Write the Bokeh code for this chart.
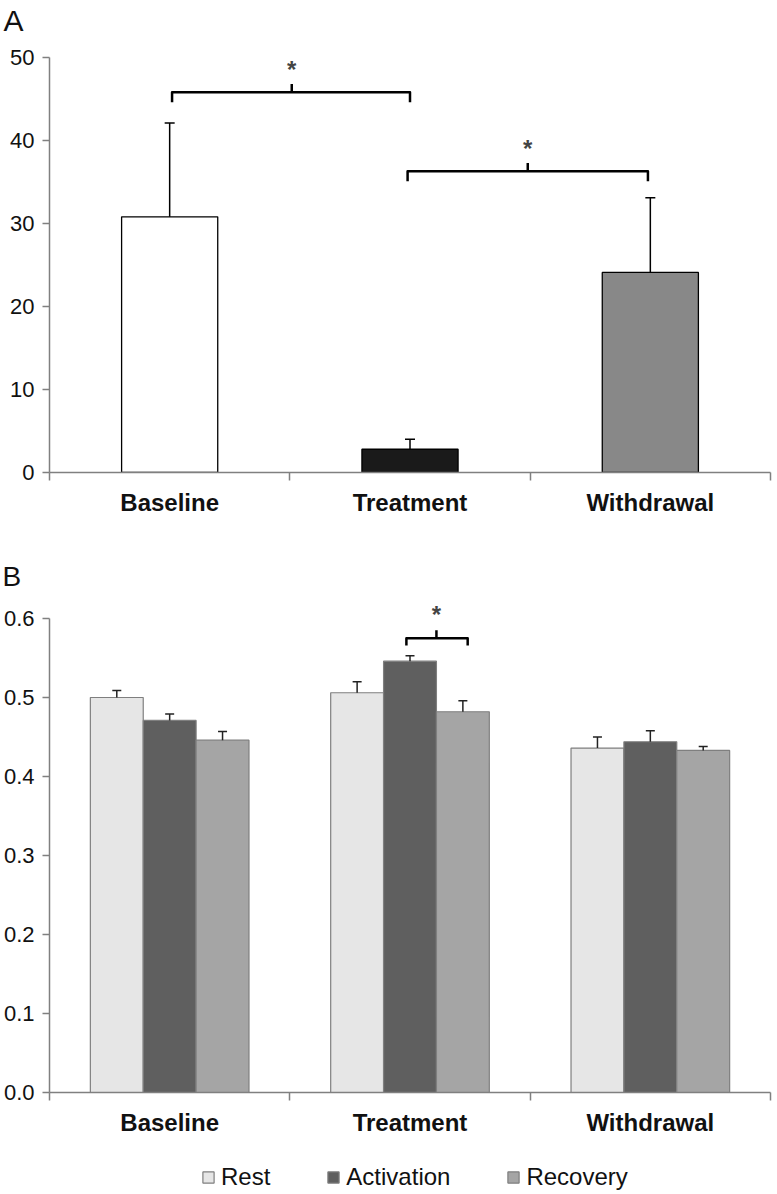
import numpy as np
from bokeh.plotting import figure
from bokeh.models import (Range1d, FixedTicker, ColumnDataSource, Whisker, TeeHead,
                          Label, Legend, LegendItem)
from bokeh.layouts import column
from bokeh.embed import file_html
from bokeh.resources import INLINE

FONT = "Liberation Sans"

# ---------------- data ----------------
categories = ["Baseline", "Treatment", "Withdrawal"]

# Panel A
a_values = [30.8, 2.8, 24.1]
a_errors = [11.3, 1.2, 9.0]
a_colors = ["#ffffff", "#1a1a1a", "#888888"]

# Panel B
b_series = ["Rest", "Activation", "Recovery"]
b_rest = [0.500, 0.506, 0.436]
b_rest_err = [0.009, 0.014, 0.014]
b_activation = [0.471, 0.546, 0.444]
b_activation_err = [0.008, 0.007, 0.014]
b_recovery = [0.446, 0.482, 0.433]
b_recovery_err = [0.011, 0.014, 0.005]
b_colors = ["#e6e6e6", "#5f5f5f", "#a5a5a5"]

a_yticks = [0, 10, 20, 30, 40, 50]
b_yticks = [0.0, 0.1, 0.2, 0.3, 0.4, 0.5, 0.6]

xc = np.arange(len(categories)) + 0.5
W = 775


def style_axes(p, yticks, fmt):
    xa = p.xaxis[0]
    xa.ticker = FixedTicker(ticks=list(xc), minor_ticks=list(range(len(categories) + 1)))
    xa.major_label_overrides = {float(x): c for x, c in zip(xc, categories)}
    xa.major_tick_out = 0
    xa.major_tick_in = 0
    xa.minor_tick_out = 8
    xa.minor_tick_in = 0
    xa.minor_tick_line_color = "#808080"
    xa.axis_line_color = "#808080"
    xa.axis_line_width = 1.5
    xa.minor_tick_line_width = 1.5
    xa.major_label_text_font = FONT
    xa.major_label_text_font_style = "bold"
    xa.major_label_text_font_size = "24px"
    xa.major_label_text_color = "#111111"
    xa.major_label_standoff = 8

    ya = p.yaxis[0]
    ya.ticker = FixedTicker(ticks=yticks)
    ya.major_label_overrides = {float(t): fmt.format(t) for t in yticks}
    ya.bounds = (yticks[0], yticks[-1])
    ya.major_tick_out = 7
    ya.major_tick_in = 0
    ya.minor_tick_line_color = None
    ya.axis_line_color = "#808080"
    ya.axis_line_width = 1.5
    ya.major_tick_line_color = "#808080"
    ya.major_tick_line_width = 1.5
    ya.major_label_text_font = FONT
    ya.major_label_text_font_size = "22px"
    ya.major_label_text_color = "#111111"
    ya.major_label_standoff = 8

    p.xgrid.grid_line_color = None
    p.ygrid.grid_line_color = None
    p.outline_line_color = None


def panel_title(p, text, size, offset):
    p.title.text = text
    p.title.text_font = FONT
    p.title.text_font_size = size
    p.title.text_font_style = "normal"
    p.title.text_color = "#111111"
    p.title.align = "left"
    p.title.offset = offset
    p.title.standoff = 0


def bracket(p, x0, x1, xm, y_line, y_hook, y_tip, y_star):
    p.line([x0, x0, x1, x1], [y_hook, y_line, y_line, y_hook],
           line_color="black", line_width=2.5, line_join="round")
    p.line([xm, xm], [y_line, y_tip], line_color="black", line_width=2.5)
    p.add_layout(Label(x=xm, y=y_star, text="*", text_font=FONT, text_font_style="bold",
                       text_font_size="24px", text_align="center", text_baseline="middle"))


# ---------------- Panel A ----------------
pa = figure(width=W, height=558, x_range=Range1d(0, 3), y_range=Range1d(0, 52.53),
            output_backend="svg", toolbar_location=None,
            min_border_left=48, min_border_right=5, min_border_top=36, min_border_bottom=86)
src_a = ColumnDataSource(dict(x=xc, top=a_values, color=a_colors,
                              upper=np.array(a_values) + np.array(a_errors)))
pa.vbar(x="x", top="top", width=0.4, bottom=0, fill_color="color",
        line_color="black", line_width=1.3, source=src_a)
pa.add_layout(Whisker(base="x", lower="top", upper="upper", source=src_a, dimension="height",
                      upper_head=TeeHead(size=10, line_color="black", line_width=1.5),
                      lower_head=None, line_color="black", line_width=1.5, level="overlay"))
style_axes(pa, a_yticks, "{:.0f}")
panel_title(pa, "A", "30px", -46)

bracket(pa, xc[0] + 0.01, xc[1], 1.008, 45.8, 44.6, 46.8, 48.6)
bracket(pa, xc[1] - 0.01, xc[2] - 0.01, 1.99, 36.3, 35.1, 37.3, 39.0)

# ---------------- Panel B ----------------
pb = figure(width=W, height=602, x_range=Range1d(0, 3), y_range=Range1d(0, 0.6342),
            output_backend="svg", toolbar_location=None,
            min_border_left=49, min_border_right=5, min_border_top=33, min_border_bottom=68)
offsets = [-0.22, 0.0, 0.22]
vals = [b_rest, b_activation, b_recovery]
errs = [b_rest_err, b_activation_err, b_recovery_err]
for name, off, v, e, col in zip(b_series, offsets, vals, errs, b_colors):
    src = ColumnDataSource(dict(x=xc + off, top=v, upper=np.array(v) + np.array(e)))
    pb.vbar(x="x", top="top", width=0.22, bottom=0, fill_color=col,
            line_color="#7f7f7f", line_width=1.2, source=src)
    pb.add_layout(Whisker(base="x", lower="top", upper="upper", source=src, dimension="height",
                          upper_head=TeeHead(size=9, line_color="#222222", line_width=1.5),
                          lower_head=None, line_color="#222222", line_width=1.5, level="overlay"))
style_axes(pb, b_yticks, "{:.1f}")
panel_title(pb, "B", "28px", -47)

bracket(pb, xc[1] - 0.015, xc[1] + 0.24, 1.61, 0.575, 0.566, 0.585, 0.605)

# ---------------- Legend (own strip) ----------------
pl = figure(width=W, height=32, x_range=Range1d(0, 1), y_range=Range1d(0, 1),
            x_axis_type=None, y_axis_type=None,
            output_backend="svg", toolbar_location=None,
            min_border_left=0, min_border_right=0, min_border_top=0, min_border_bottom=0)
pl.xgrid.grid_line_color = None
pl.ygrid.grid_line_color = None
pl.outline_line_color = None
items = []
for name, v, col in zip(b_series, vals, b_colors):
    # hidden helper glyphs only provide the legend swatches
    src = ColumnDataSource(dict(x=[0.5], top=[v[0]]))
    r = pl.vbar(x="x", top="top", width=0.1, fill_color=col, line_color="#7f7f7f",
                line_width=1.2, source=src, visible=False)
    items.append(LegendItem(label=name, renderers=[r]))
legend = Legend(items=items, orientation="horizontal", location=(152, 1),
                label_text_font=FONT, label_text_font_size="24px", label_text_color="#111111",
                glyph_width=14, glyph_height=14, spacing=56, label_standoff=6,
                border_line_color=None, background_fill_alpha=0, margin=0, padding=2,
                inactive_fill_alpha=0, click_policy="none")
pl.add_layout(legend, "center")

layout = column(pa, pb, pl, spacing=0)
open("out.html", "w").write(file_html(layout, INLINE))
